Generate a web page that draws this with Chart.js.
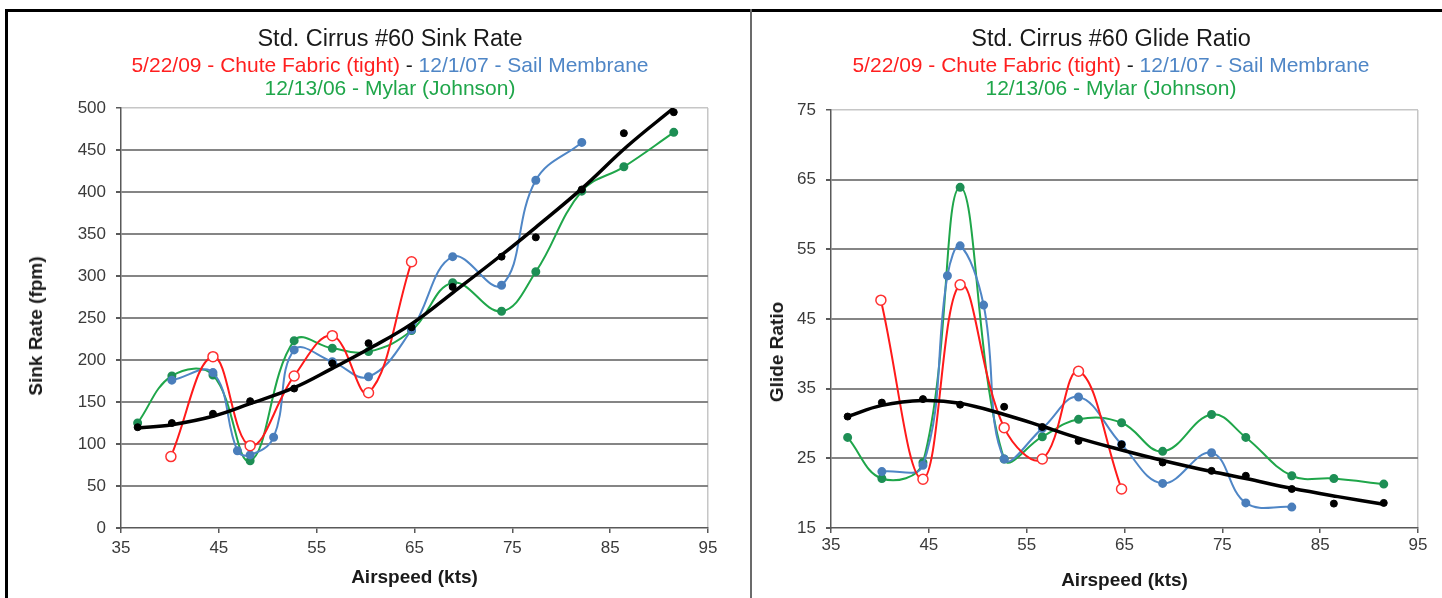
<!DOCTYPE html>
<html>
<head>
<meta charset="utf-8">
<script src="https://cdn.jsdelivr.net/npm/chart.js@4/dist/chart.umd.min.js"></script>
<style>
	html, body { margin:0; padding:0; background:#fff; }
	body { width:1442px; height:598px; position:relative; overflow:hidden; font-family:"Liberation Sans", Arial, sans-serif; }
	.abs { position:absolute; }
	.frame { background:#000; }
	.line { position:absolute; transform:translateX(-50%); white-space:nowrap; }
	.t1 { font-size:23.5px; line-height:23.5px; top:27px; color:#1a1a1a; }
	.t2 { font-size:21px; line-height:21px; top:54px; }
	.t3 { font-size:21px; line-height:21px; top:77px; }
	.red { color:#ff1f1f; } .blue { color:#4f86c6; } .green { color:#1fa64a; } .dash { color:#1a1a1a; }
	.ytitle { position:absolute; transform:translate(-50%,-50%) rotate(-90deg); white-space:nowrap; font-weight:bold; font-size:19px; color:#1a1a1a; }
</style>
</head>
<body>
<div class="abs frame" style="left:5px;top:9px;width:1437px;height:3px;"></div>
<div class="abs frame" style="left:5px;top:9px;width:3px;height:589px;"></div>
<div class="abs" style="left:750px;top:9px;width:2px;height:589px;background:#6b6b6b;"></div>

<canvas id="sink" class="abs" style="left:0;top:0;" width="751" height="598"></canvas>
<canvas id="glide" class="abs" style="left:751px;top:0;" width="691" height="598"></canvas>

<div class="line t1" style="left:390px;">Std. Cirrus #60 Sink Rate</div>
<div class="line t2" style="left:390px;"><span class="red">5/22/09 - Chute Fabric (tight)</span><span class="dash"> - </span><span class="blue">12/1/07 - Sail Membrane</span></div>
<div class="line t3 green" style="left:390px;">12/13/06 - Mylar (Johnson)</div>
<div class="ytitle" style="left:36px;top:326px;">Sink Rate (fpm)</div>

<div class="line t1" style="left:1111px;">Std. Cirrus #60 Glide Ratio</div>
<div class="line t2" style="left:1111px;"><span class="red">5/22/09 - Chute Fabric (tight)</span><span class="dash"> - </span><span class="blue">12/1/07 - Sail Membrane</span></div>
<div class="line t3 green" style="left:1111px;">12/13/06 - Mylar (Johnson)</div>
<div class="ytitle" style="left:777px;top:352px;">Glide Ratio</div>

<script>
(function(){
	// airspeeds (kts) per flight
	const ktsChute = [40.1, 44.4, 48.2, 52.7, 56.6, 60.3, 64.7];
	const ktsSail  = [40.2, 44.4, 46.9, 48.2, 50.6, 52.7, 56.6, 60.3, 64.7, 68.9, 73.9, 77.4, 82.1];
	const ktsMylar = [36.7, 40.2, 44.4, 48.2, 52.7, 56.6, 60.3, 64.7, 68.9, 73.9, 77.4, 82.1, 86.4, 91.5];
	const ktsBlack = [36.7, 40.2, 44.4, 48.2, 52.7, 56.6, 60.3, 64.7, 68.9, 73.9, 77.4, 82.1, 86.4, 91.5];

	// sink rate (fpm)
	const sinkChute = [85, 204, 98, 181, 229, 161, 317];
	const sinkSail  = [176, 185, 92, 87, 108, 212, 198, 180, 236, 323, 289, 414, 459];
	const sinkMylar = [125, 181, 182, 80, 223, 214, 210, 235, 292, 258, 305, 401, 430, 471];
	const sinkBlack = [120, 125, 136, 151, 166, 196, 220, 239, 287, 323, 346, 403, 470, 495];

	// glide ratio
	const glideChute = [47.7, 22.0, 49.9, 29.4, 24.9, 37.5, 20.6];
	const glideSail  = [23.1, 24.0, 51.2, 55.5, 47.0, 24.9, 29.3, 33.8, 27.0, 21.4, 25.8, 18.6, 18.0];
	const glideMylar = [28.0, 22.1, 24.4, 63.9, 24.9, 28.1, 30.6, 30.1, 26.0, 31.3, 28.0, 22.5, 22.1, 21.3];
	const glideBlack = [31.0, 33.0, 33.5, 32.7, 32.4, 29.5, 27.5, 27.0, 24.4, 23.2, 22.5, 20.6, 18.5, 18.6];

	// black trend curves
	const trendKts   = [36.7, 40.2, 44.4, 48.2, 52.7, 56.6, 60.3, 64.7, 68.9, 73.9, 77.4, 82.1, 86.8, 91.5];
	const sinkTrend  = [119, 123, 133, 148, 167, 190, 213, 243, 280, 325, 358, 404, 455, 500];
	const glideTrend = [31.0, 32.6, 33.3, 32.9, 31.3, 29.6, 27.9, 26.2, 24.7, 23.1, 22.1, 20.7, 19.5, 18.4];

	const xTicks = [35, 45, 55, 65, 75, 85, 95];
	const sinkTicks = [0, 500, 50];
	const glideTicks = [15, 75, 10];

	const pts = (xs, ys) => xs.map((x, i) => ({ x, y: ys[i] }));
	const font = '"Liberation Sans", Arial, sans-serif';
	const axisCol = '#595959', gridCol = '#858585', edgeCol = '#c6c6c6', tickText = '#3a3a3a';

	const sets = (chute, sail, mylar, black, trend) => [
		{ data: pts(trendKts, trend), showLine:true, tension:0.4, borderColor:'#000', borderWidth:3.5, pointRadius:0, order:0 },
		{ data: pts(ktsBlack, black), showLine:false, pointRadius:3.5, pointBackgroundColor:'#000', pointBorderColor:'#000', order:1 },
		{ data: pts(ktsChute, chute), showLine:true, tension:0.4, borderColor:'#ff1a1a', borderWidth:2, pointRadius:5, pointBorderWidth:1.5, pointBackgroundColor:'#fff', pointBorderColor:'#ff3030', order:2 },
		{ data: pts(ktsSail, sail), showLine:true, tension:0.4, borderColor:'#4f86c6', borderWidth:2, pointRadius:3.5, pointBackgroundColor:'#4a7ebb', pointBorderColor:'#4a7ebb', order:3 },
		{ data: pts(ktsMylar, mylar), showLine:true, tension:0.4, borderColor:'#1fa64a', borderWidth:2, pointRadius:3.5, pointBackgroundColor:'#1e8f55', pointBorderColor:'#1e8f55', order:4 }
	];

	const make = (id, datasets, yr, opt) => new Chart(document.getElementById(id), {
		type:'scatter',
		data:{ datasets },
		options:{
			responsive:false, animation:false,
			layout:{ padding:{ left:0, top:opt.top, right:opt.right, bottom:0 } },
			plugins:{ legend:{ display:false }, tooltip:{ enabled:false } },
			scales:{
				x:{
					type:'linear', min:xTicks[0], max:xTicks[xTicks.length-1],
					afterBuildTicks:(s) => { s.ticks = xTicks.map(v => ({ value:v })); },
					afterFit:(s) => { s.height = 70; },
					ticks:{ font:{ family:font, size:17 }, color:tickText, padding:opt.xPad },
					grid:{ drawOnChartArea:true, drawTicks:true, tickLength:5, tickColor:axisCol, lineWidth:1.5,
						color:(c) => c.tick && c.tick.value === xTicks[xTicks.length-1] ? edgeCol : 'rgba(0,0,0,0)' },
					border:{ display:true, color:axisCol, width:1.5 },
					title:{ display:true, text:'Airspeed (kts)', font:{ family:font, size:19, weight:'bold' }, color:'#1a1a1a', padding:{ top:0, bottom:opt.xTitle } }
				},
				y:{
					min:yr[0], max:yr[1],
					afterFit:(s) => { s.width = opt.yWidth; },
					ticks:{ stepSize:yr[2], font:{ family:font, size:17 }, color:tickText, padding:10 },
					grid:{ drawTicks:true, tickLength:5, tickColor:axisCol, lineWidth:(c) => c.tick && c.tick.value === yr[1] ? 1.5 : 2,
						color:(c) => c.tick && c.tick.value === yr[1] ? edgeCol : (c.tick && c.tick.value === yr[0] ? 'rgba(0,0,0,0)' : gridCol) },
					border:{ display:true, color:axisCol, width:1.5 }
				}
			}
		}
	});

	make('sink', sets(sinkChute, sinkSail, sinkMylar, sinkBlack, sinkTrend), sinkTicks, { top:108, right:43, yWidth:121, xPad:5, xTitle:9 });
	make('glide', sets(glideChute, glideSail, glideMylar, glideBlack, glideTrend), glideTicks, { top:110, right:24, yWidth:80, xPad:2, xTitle:6 });
})();
</script>
</body>
</html>
